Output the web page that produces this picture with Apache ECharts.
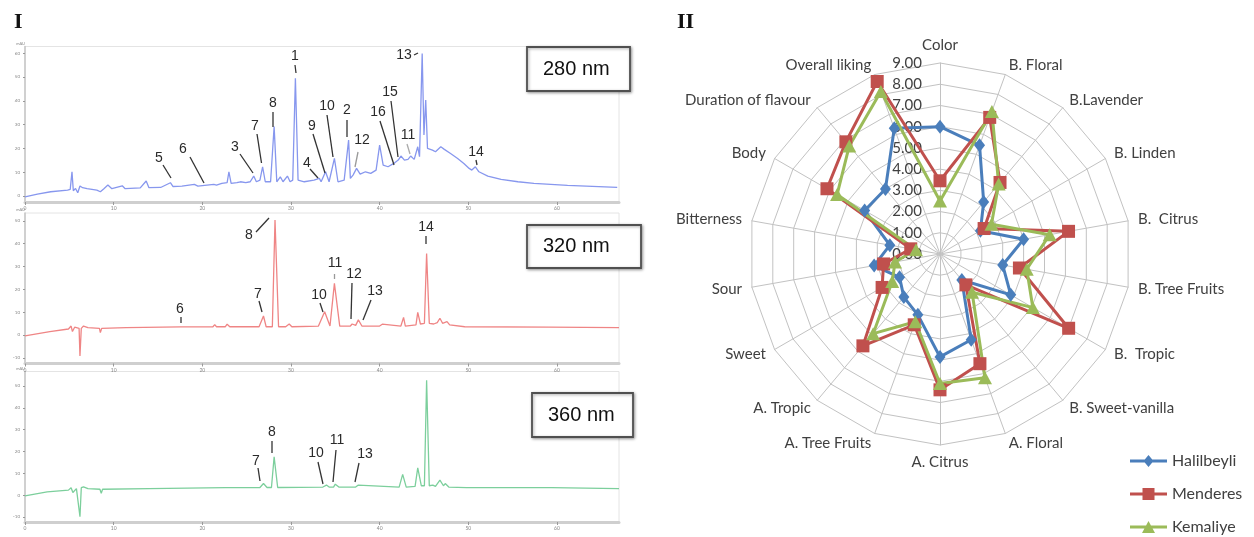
<!DOCTYPE html>
<html><head><meta charset="utf-8">
<script src="https://cdn.jsdelivr.net/npm/echarts@6/dist/echarts.min.js"></script>
<style>html,body{margin:0;padding:0;background:#fff}#c{width:1254px;height:537px}</style>
</head><body><div id="c"></div>
<script>
// ---------- DATA ----------
const radarCategories = ['Color','B. Floral','B.Lavender','B. Linden','B.  Citrus','B. Tree Fruits','B.  Tropic','B. Sweet-vanilla','A. Floral','A. Citrus','A. Tree Fruits','A. Tropic','Sweet','Sour','Bitterness','Body','Duration of flavour','Overall liking'];
const halilbeyli = [6.0, 5.45, 3.2, 2.2, 4.0, 3.0, 3.85, 1.6, 4.3, 4.85, 3.05, 2.65, 2.2, 3.15, 2.4, 4.1, 4.0, 6.3];
const menderes   = [3.45, 6.85, 4.4, 2.4, 6.15, 3.8, 7.0, 1.9, 5.5, 6.4, 3.55, 5.65, 3.15, 2.7, 1.4, 6.15, 6.9, 8.65];
const kemaliye   = [2.5, 7.15, 4.3, 2.8, 5.25, 4.15, 5.05, 2.35, 6.2, 6.1, 3.4, 4.9, 2.6, 2.15, 1.15, 5.6, 6.65, 8.15];
const seriesNames = ['Halilbeyli','Menderes','Kemaliye'];
const radarMax = 9;

const timeTicks = [0,10,20,30,40,50,60];
const signalTicks280 = [0,10,20,30,40,50,60];
const signalTicks320 = [-10,0,10,20,30,40,50];
const signalTicks360 = [-10,0,10,20,30,40,50];
const wavelengths = ['280 nm','320 nm','360 nm'];

// [retention time (min), signal (mAU)]
const chrom280 = [[0,-0.3],[1.4,0.8],[2.9,1.8],[4.8,2.5],[5.1,2.8],[5.3,10.2],[5.45,2.2],[5.7,3.2],[5.95,1.4],[6.2,4.2],[6.5,3.5],[7.0,3.1],[8.1,2.5],[8.5,1.8],[8.9,3.1],[9.35,4.6],[9.8,3.1],[10.97,4.3],[11.3,3.1],[13.0,3.4],[13.67,6.3],[13.98,3.5],[15.3,3.6],[16.4,5.6],[16.7,4.0],[17.7,4.2],[19.1,4.9],[19.5,4.2],[21.3,4.9],[21.6,4.6],[22.2,5.3],[22.8,5.6],[23.0,10.2],[23.25,5.3],[23.9,5.6],[24.3,6.0],[24.9,5.6],[25.4,6.0],[25.8,8.4],[26.1,6.0],[26.5,6.7],[26.8,12.3],[27.1,6.0],[27.7,6.0],[28.1,29.2],[28.4,6.0],[28.8,8.1],[29.1,6.0],[29.6,8.4],[29.9,6.0],[30.2,6.7],[30.5,49.5],[30.8,6.7],[31.5,6.0],[32.6,6.7],[33.2,7.4],[33.4,6.0],[33.9,10.2],[34.3,6.0],[34.9,15.8],[35.3,6.0],[36.0,6.7],[36.5,23.5],[36.7,7.4],[37.0,8.8],[37.4,11.6],[37.8,9.2],[38.4,10.2],[39.0,9.5],[39.6,10.9],[40.0,21.4],[40.4,13.0],[40.95,12.3],[41.6,13.7],[42.1,15.1],[42.4,16.8],[42.8,15.1],[43.2,15.4],[43.5,16.8],[43.9,15.4],[44.3,20.7],[44.5,16.5],[44.8,59.9],[45.0,25.6],[45.2,40.3],[45.4,20.0],[45.96,19.3],[46.3,18.6],[46.9,20.7],[47.3,19.6],[48.0,17.9],[48.8,15.8],[49.5,13.7],[50.1,11.6],[50.4,10.9],[50.8,12.3],[51.2,10.2],[52.2,8.4],[53.7,7.0],[55.6,6.0],[57.4,5.3],[61.2,4.5],[66.8,3.6]];
const chrom320 = [[0,-0.4],[2.8,1.5],[4.9,2.6],[5.2,3.9],[5.35,1.5],[5.6,3.4],[6.1,2.9],[6.2,-9.2],[6.35,2.9],[6.6,3.9],[7.1,3.2],[8.4,2.9],[8.5,1.0],[8.65,2.9],[11.4,3.2],[17.6,3.5],[21.2,3.6],[21.4,4.5],[21.6,3.6],[22.6,3.6],[22.8,4.7],[23.1,3.6],[26.4,3.6],[26.9,8.3],[27.2,3.6],[27.9,3.6],[28.2,50.3],[28.6,3.6],[29.4,3.6],[29.8,4.8],[30.1,3.6],[33.1,3.9],[33.8,10.2],[34.4,3.9],[34.9,22.6],[35.5,3.9],[36.7,3.9],[36.9,4.8],[37.3,4.2],[37.6,6.6],[38.0,3.9],[40.0,3.9],[40.3,4.7],[40.5,3.9],[42.4,3.9],[42.7,7.7],[42.9,3.9],[44.1,4.4],[44.3,9.9],[44.6,4.8],[45.05,5.1],[45.3,35.7],[45.6,5.1],[46.1,4.8],[46.5,5.4],[46.8,7.3],[47.1,5.1],[47.6,5.8],[47.9,4.4],[49.6,3.6],[59.1,3.4],[67.0,3.2]];
const chrom360 = [[0,-0.3],[2.5,1.5],[4.9,2.3],[5.2,3.4],[5.4,1.2],[5.8,3.0],[6.0,2.6],[6.2,-9.9],[6.35,3.4],[6.6,3.8],[7.1,3.0],[8.45,2.7],[8.6,0.8],[8.75,2.7],[14.0,3.0],[22.6,3.4],[22.8,4.0],[23.1,3.4],[26.5,3.5],[26.9,5.3],[27.3,3.5],[27.8,3.5],[28.1,17.5],[28.5,3.5],[33.6,3.7],[34.0,4.6],[34.3,3.7],[34.8,3.7],[35.0,5.0],[35.4,3.7],[37.3,3.7],[37.6,4.6],[37.8,3.7],[42.2,3.7],[42.6,9.5],[43.0,3.7],[44.0,4.0],[44.3,12.5],[44.7,4.3],[45.05,4.3],[45.3,52.6],[45.6,4.3],[46.0,4.6],[46.3,4.0],[46.8,6.9],[47.2,4.3],[47.4,5.3],[47.8,3.7],[49.8,3.4],[59.4,3.4],[67.0,3.0]];

// ---------- LAYOUT / STYLE ----------
const chroms = [chrom280, chrom320, chrom360];
const chromColors = ['#8797ee', '#ef8585', '#7ccf9c'];
const signalTicks = [signalTicks280, signalTicks320, signalTicks360];
const yRanges = [[-2.5, 62.8], [-12.5, 53.4], [-12.3, 56.6]];
const gridBoxes = [{top: 46.5, height: 155.5}, {top: 213, height: 150.5}, {top: 371.5, height: 150.5}];
const seriesColors = ['#4a7ebb', '#c0504d', '#9bbb59'];
const symbols = ['diamond', 'rect', 'triangle'];
const symbolSizes = [[11, 14], 13, [14, 13]];
const legendIcons = [
  'path://M0,4.6L37,4.6L37,7.4L0,7.4Z M13.5,6L18.5,0L23.5,6L18.5,12Z',
  'path://M0,4.6L37,4.6L37,7.4L0,7.4Z M12.5,0L24.5,0L24.5,12L12.5,12Z',
  'path://M0,4.6L37,4.6L37,7.4L0,7.4Z M12,12L18.5,0L25,12Z'
];

const grids = [], xAxes = [], yAxes = [], series = [];
for (let i = 0; i < 3; i++) {
  grids.push({left: 25, width: 594, top: gridBoxes[i].top, height: gridBoxes[i].height,
    show: true, borderColor: '#e4e4e4', borderWidth: 1, backgroundColor: '#fff'});
  xAxes.push({type: 'value', gridIndex: i, min: 0, max: 67,
    axisLine: {show: true, onZero: false, lineStyle: {color: '#cfcfcf', width: 3}},
    axisTick: {show: true, customValues: timeTicks, length: 3, lineStyle: {color: '#999'}},
    axisLabel: {customValues: timeTicks, fontSize: 5, color: '#888', margin: 4},
    splitLine: {show: false}});
  yAxes.push({type: 'value', gridIndex: i, min: yRanges[i][0], max: yRanges[i][1],
    name: 'mAU', nameGap: 1, nameTextStyle: {fontSize: 4, color: '#888', align: 'right'},
    axisLine: {show: true, lineStyle: {color: '#c4c4c4', width: 1.5}},
    axisTick: {show: true, inside: false, customValues: signalTicks[i], length: 2, lineStyle: {color: '#999'}},
    axisLabel: {customValues: signalTicks[i], fontSize: 4.5, color: '#888', margin: 5},
    splitLine: {show: false}});
  series.push({type: 'line', xAxisIndex: i, yAxisIndex: i, data: chroms[i], showSymbol: false,
    lineStyle: {color: chromColors[i], width: 1.3}, z: 3, animation: false});
}

// radar: ECharts places indicators counter-clockwise, the figure is clockwise
const order = [0];
for (let k = radarCategories.length - 1; k >= 1; k--) order.push(k);
const indicator = order.map((idx, n) => {
  const ind = {name: radarCategories[idx], min: 0, max: radarMax};
  if (n === 0) ind.axisLabel = {show: true};
  return ind;
});
const radarValues = [halilbeyli, menderes, kemaliye];
series.push({
  type: 'radar', radarIndex: 0, animation: false, z: 5,
  data: radarValues.map((vals, s) => ({
    name: seriesNames[s],
    value: order.map(i => vals[i]),
    symbol: symbols[s], symbolSize: symbolSizes[s],
    itemStyle: {color: seriesColors[s]},
    lineStyle: {color: seriesColors[s], width: 3}
  }))
});

// annotations (pixel layout)
const txtFont = '14px "Liberation Sans", Arial, sans-serif';
function lbl(t, x, y) { return {type: 'text', x: x, y: y, z: 20, style: {text: t, font: txtFont, fill: '#2a2a2a', align: 'center', verticalAlign: 'middle'}}; }
function ldr(x1, y1, x2, y2, c) { return {type: 'line', z: 20, shape: {x1, y1, x2, y2}, style: {stroke: c || '#333', lineWidth: 1.3}}; }
function box(x, y, w, h, t) {
  return [{type: 'rect', z: 20, shape: {x, y, width: w, height: h},
      style: {fill: '#fff', stroke: '#505050', lineWidth: 1.8, shadowBlur: 3, shadowColor: 'rgba(0,0,0,0.35)', shadowOffsetX: 1, shadowOffsetY: 1}},
    {type: 'text', z: 21, x: x + 16, y: y + h / 2, style: {text: t, font: '20px "Liberation Sans", Arial, sans-serif', fill: '#111', align: 'left', verticalAlign: 'middle'}}];
}
const graphics = [
  {type: 'text', x: 14, y: 22, style: {text: 'I', font: 'bold 22px "Liberation Serif", "DejaVu Serif", serif', fill: '#111', verticalAlign: 'middle'}},
  {type: 'text', x: 677, y: 22, style: {text: 'II', font: 'bold 22px "Liberation Serif", "DejaVu Serif", serif', fill: '#111', verticalAlign: 'middle'}},
  ...box(527, 47, 103, 44, wavelengths[0]),
  ...box(527, 225, 114, 43, wavelengths[1]),
  ...box(532, 393, 101, 44, wavelengths[2]),
  // 280 nm
  lbl('1', 295, 56), ldr(295, 65, 296, 73),
  lbl('8', 273, 103), ldr(273, 112, 273, 127),
  lbl('7', 255, 126), ldr(257, 134, 261.5, 163),
  lbl('3', 235, 147), ldr(240, 154, 253, 173),
  lbl('6', 183, 149), ldr(190, 157, 204, 183),
  lbl('5', 159, 158), ldr(163, 165, 171, 178),
  lbl('4', 307, 163), ldr(310, 169, 318, 178),
  lbl('9', 312, 126), ldr(313, 134, 325, 173),
  lbl('10', 327, 106), ldr(327, 115, 333, 157),
  lbl('2', 347, 110), ldr(347, 120, 347, 137),
  lbl('12', 362, 140), ldr(358, 152, 355, 167, '#999'),
  lbl('16', 378, 112), ldr(380, 121, 394, 165),
  lbl('15', 390, 92), ldr(391, 101, 398, 157),
  lbl('11', 408, 135), ldr(407, 144, 410, 154, '#aaa'),
  lbl('13', 404, 55), ldr(414, 55, 418, 53),
  lbl('14', 476, 152), ldr(476, 160, 477, 165),
  // 320 nm
  lbl('8', 249, 235), ldr(256, 232, 269, 218),
  lbl('7', 258, 294), ldr(259, 301, 262, 312),
  lbl('6', 180, 309), ldr(181, 317, 181, 323),
  lbl('10', 319, 295), ldr(320, 303, 323, 312),
  lbl('11', 335, 263), ldr(334.5, 274, 334.5, 279, '#999'),
  lbl('12', 354, 274), ldr(352, 283, 351, 319),
  lbl('13', 375, 291), ldr(371, 300, 363, 320),
  lbl('14', 426, 227), ldr(426, 236, 426, 244),
  // 360 nm
  lbl('7', 256, 461), ldr(258, 468, 260, 481),
  lbl('8', 272, 432), ldr(272, 441, 272, 453),
  lbl('10', 316, 453), ldr(318, 462, 323, 484),
  lbl('11', 337, 440), ldr(336, 450, 333, 482),
  lbl('13', 365, 454), ldr(359, 463, 355, 482)
];

const option = {
  animation: false,
  backgroundColor: '#fff',
  textStyle: {fontFamily: 'Lato, "Open Sans", sans-serif'},
  grid: grids, xAxis: xAxes, yAxis: yAxes,
  radar: {
    center: [940, 254], radius: 191, startAngle: 90, shape: 'polygon', splitNumber: 9,
    axisName: {color: '#404040', fontSize: 15, fontFamily: 'Lato, sans-serif'},
    nameGap: 10,
    axisLine: {lineStyle: {color: '#c2c2c2', width: 1}},
    splitLine: {lineStyle: {color: '#c2c2c2', width: 1}},
    splitArea: {show: false},
    axisTick: {show: false},
    axisLabel: {show: false, formatter: v => v.toFixed(2), color: '#404040', fontSize: 15, fontFamily: 'Lato, sans-serif', margin: 18, showMinLabel: true, showMaxLabel: true},
    indicator: indicator
  },
  legend: {
    orient: 'vertical', left: 1130, top: 453, height: 110, padding: 0, itemWidth: 37, itemHeight: 12, itemGap: 17,
    textStyle: {fontSize: 16, color: '#404040', fontFamily: 'Lato, sans-serif'},
    data: seriesNames.map((n, s) => ({name: n, icon: legendIcons[s]}))
  },
  series: series,
  graphic: graphics
};
const chart = echarts.init(document.getElementById('c'), null, {renderer: 'canvas'});
chart.setOption(option);
</script></body></html>
